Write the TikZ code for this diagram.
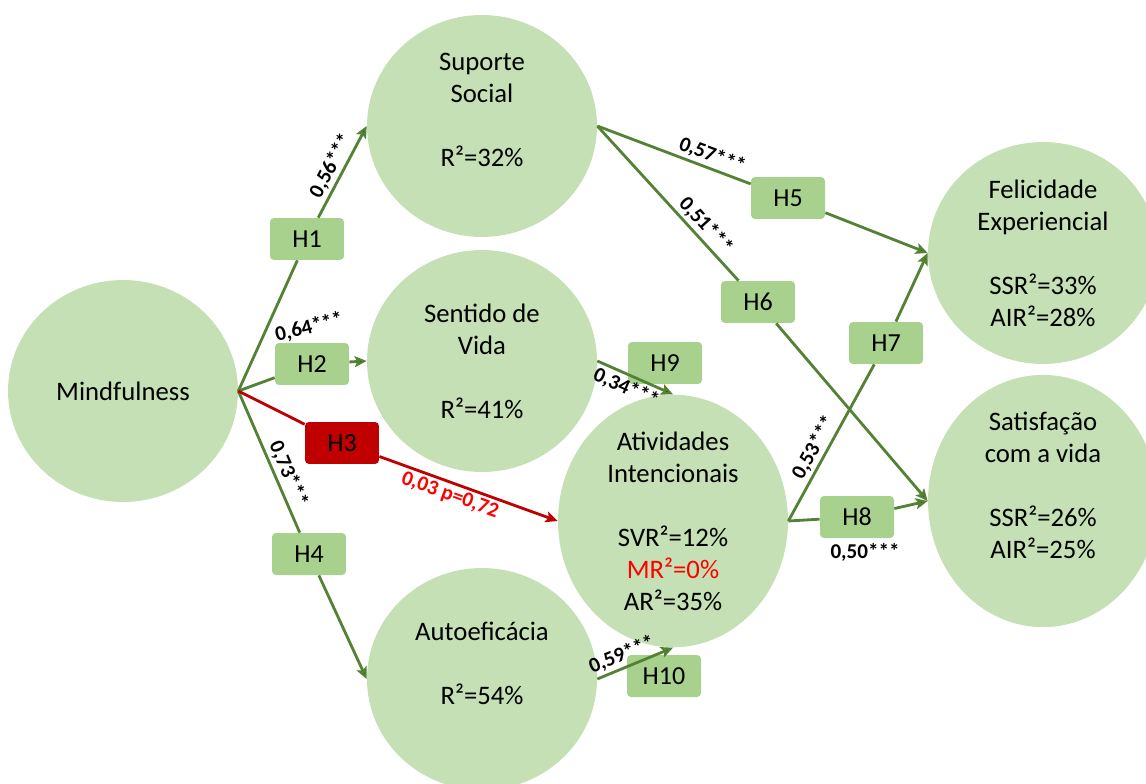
\documentclass[tikz,border=0pt]{standalone}
\usepackage{fontspec}
\setmainfont{Carlito}
\usetikzlibrary{arrows.meta,positioning,shapes.geometric}

\definecolor{circfill}{HTML}{C5E0B4}
\definecolor{boxfill}{HTML}{A9D18E}
\definecolor{pathgreen}{HTML}{548235}
\definecolor{darkred}{HTML}{C00000}
\definecolor{brightred}{HTML}{FF0000}

\begin{document}
\begin{tikzpicture}[x=0.02cm,y=-0.02cm,>={Stealth[length=2.4mm,width=2.2mm,inset=0.5mm]},
    construct/.style={ellipse,fill=circfill,minimum width=4.6cm,minimum height=4.44cm,inner sep=0pt,align=center,font=\fontsize{15.2}{18.2}\selectfont},
    hyp/.style={rectangle,rounded corners=0.08cm,fill=boxfill,minimum width=1.48cm,minimum height=0.84cm,inner sep=0pt,font=\fontsize{14.8}{17}\selectfont},
    link/.style={draw=pathgreen,line width=1.6pt},
    coef/.style={font=\fontsize{12}{13}\selectfont\bfseries,inner sep=1.5pt}]

                \useasboundingbox (0,0) rectangle (1146,784);

                % constructs
                \node[construct] (mind) at (123,391) {Mindfulness};
                \node[construct] (ss) at (482,126) {Suporte\\Social\\\mbox{}\\R²=32\%\\\mbox{}};
                \node[construct] (sv) at (482,361) {Sentido de\\Vida\\\mbox{}\\R²=41\%};
                \node[construct] (ai) at (673,521) {Atividades\\Intencionais\\\mbox{}\\SVR²=12\%\\\textcolor{brightred}{MR²=0\%}\\AR²=35\%};
                \node[construct] (ae) at (482,679) {Autoeficácia\\\mbox{}\\R²=54\%\\\mbox{}};
                \node[construct] (fe) at (1043,253) {Felicidade\\Experiencial\\\mbox{}\\SSR²=33\%\\AIR²=28\%};
                \node[construct] (sat) at (1043,501) {Satisfação\\com a vida\\\mbox{}\\SSR²=26\%\\AIR²=25\%\\\mbox{}};

                % hypotheses
                \node[hyp] (h1) at (307,239) {H1};
                \node[hyp] (h2) at (312,364) {H2};
                \node[hyp,fill=darkred] (h3) at (342,443) {H3};
                \node[hyp] (h4) at (309,554) {H4};
                \node[hyp] (h5) at (788,198) {H5};
                \node[hyp] (h6) at (758,302) {H6};
                \node[hyp] (h7) at (886,343) {H7};
                \node[hyp] (h8) at (857,517) {H8};
                \node[hyp] (h9) at (665,363) {H9};
                \node[hyp] (h10) at (664,676) {H10};

                \node[coef,rotate=14] (c2) [above=2pt of h2] {0,64***};
                \node[coef] (c8) [below=1pt of h8,xshift=0.16cm] {0,50***};

                \path[link] (mind.east) edge (h1)
                          (h1) edge[->] node[coef,sloped,above] {0,56***} (ss.west)
                          (mind.east) edge (h2)
                          (h2) edge[->] (sv.west)
                          (mind.east) edge node[coef,sloped,above,pos=0.62] {0,73***} (h4)
                          (h4) edge[->] (ae.west)
                          (ss.east) edge node[coef,sloped,above,pos=0.72] {0,57***} (h5)
                          (h5) edge[->] (fe.west)
                          (ss.east) edge node[coef,sloped,above,pos=0.7] {0,51***} (h6)
                          (h6) edge[->] (sat.west)
                          (ai.east) edge node[coef,sloped,above,pos=0.43] {0,53***} (h7)
                          (h7) edge[->] (fe.west)
                          (ai.east) edge (h8)
                          (h8) edge[->] (sat.west)
                          (sv.east) edge[->] node[coef,sloped,below,pos=0.45] {0,34***} (ai.north)
                          (ae.east) edge[->] node[coef,sloped,above,pos=0.39] {0,59***} (ai.south);

                \path[link,draw=darkred] (mind.east) edge (h3)
                          (h3) edge[->] node[coef,sloped,below,pos=0.42,text=brightred] {0,03 p=0,72} (ai.west);

            \end{tikzpicture}
\end{document}
